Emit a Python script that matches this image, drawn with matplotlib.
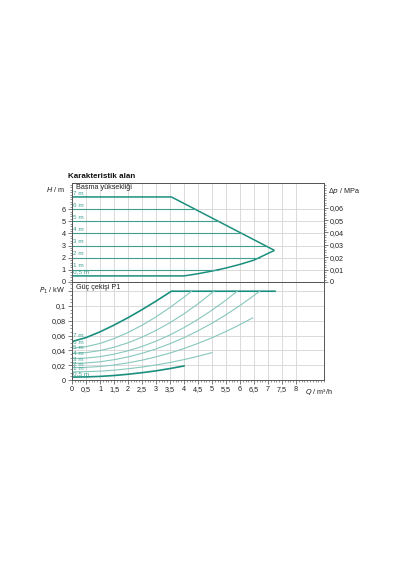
import matplotlib
matplotlib.use("Agg")
import matplotlib.pyplot as plt
from matplotlib.ticker import MultipleLocator, FuncFormatter
import numpy as np

plt.rcParams['font.family'] = ['Liberation Sans', 'DejaVu Sans']

# ---------------- data ----------------
head_labels = ["7 m", "6 m", "5 m", "4 m", "3 m", "2 m", "1 m", "0,5 m"]

# Head (top panel) envelope
max_head_q = [0.0, 3.55, 7.23]
max_head_h = [7.0, 7.0, 2.6]
min_head_q = [0.0, 4.0, 4.5, 5.0, 5.5, 6.0, 6.5, 7.0, 7.23]
min_head_h = [0.5, 0.5, 0.68, 0.9, 1.15, 1.45, 1.8, 2.35, 2.6]
mid_heads = [6, 5, 4, 3, 2, 1]
mid_heads_end_q = [4.39, 5.22, 6.06, 6.89, 6.68, 5.2]

# Power (bottom panel) curves
p_7m_q = [0.0, 0.5, 1.0, 1.5, 2.0, 2.5, 3.0, 3.55, 7.25]
p_7m = [0.052, 0.0573, 0.0651, 0.0742, 0.0842, 0.0951, 0.1066, 0.12, 0.12]
p_6m_q = [0.0, 0.5, 1.0, 1.5, 2.0, 2.5, 3.0, 3.5, 4.0, 4.27]
p_6m = [0.043, 0.045, 0.0495, 0.056, 0.0642, 0.074, 0.0853, 0.098, 0.112, 0.12]
p_5m_q = [0.0, 0.5, 1.0, 1.5, 2.0, 2.5, 3.0, 3.5, 4.0, 4.5, 5.07]
p_5m = [0.036, 0.037, 0.0398, 0.0443, 0.0503, 0.0579, 0.067, 0.0775, 0.0895, 0.103, 0.12]
p_4m_q = [0.0, 0.5, 1.0, 1.5, 2.0, 2.5, 3.0, 3.5, 4.0, 4.5, 5.0, 5.5, 5.9]
p_4m = [0.029, 0.0297, 0.0316, 0.0349, 0.0395, 0.0453, 0.0525, 0.061, 0.0708, 0.082, 0.0944, 0.108, 0.12]
p_3m_q = [0.0, 0.5, 1.0, 1.5, 2.0, 2.5, 3.0, 3.5, 4.0, 4.5, 5.0, 5.5, 6.0, 6.5, 6.7]
p_3m = [0.0225, 0.023, 0.0247, 0.0274, 0.0312, 0.0361, 0.042, 0.0491, 0.0572, 0.0665,
        0.0768, 0.0882, 0.1007, 0.1143, 0.12]
p_2m_q = [0.0, 0.5, 1.0, 1.5, 2.0, 2.5, 3.0, 3.5, 4.0, 4.5, 5.0, 5.5, 6.0, 6.45]
p_2m = [0.0167, 0.0171, 0.0183, 0.0203, 0.0232, 0.0268, 0.0313, 0.0365, 0.0426, 0.0495,
        0.0571, 0.0656, 0.0749, 0.084]
p_1m_q = [0.0, 0.5, 1.0, 1.5, 2.0, 2.5, 3.0, 3.5, 4.0, 4.5, 5.0]
p_1m = [0.011, 0.0113, 0.012, 0.0133, 0.0152, 0.0175, 0.0204, 0.0237, 0.0276, 0.0321, 0.037]
p_05m_q = [0.0, 0.5, 1.0, 1.5, 2.0, 2.5, 3.0, 3.5, 4.0]
p_05m = [0.004, 0.0042, 0.0049, 0.0061, 0.0078, 0.0099, 0.0124, 0.0155, 0.019]

x_ticks = [0, 0.5, 1, 1.5, 2, 2.5, 3, 3.5, 4, 4.5, 5, 5.5, 6, 6.5, 7, 7.5, 8]
h_ticks = [0, 1, 2, 3, 4, 5, 6]
dp_ticks = [0, 0.01, 0.02, 0.03, 0.04, 0.05, 0.06]
p_ticks = [0, 0.02, 0.04, 0.06, 0.08, 0.1]

# ---------------- style ----------------
TEAL = "#1b8f7e"
TEAL_MID = "#3f9f90"
TEAL_LIGHT = "#86c7bc"
GRID = "#d4d4d4"
FS = 5.2
FS_LAB = 4.6

fig = plt.figure(figsize=(4.0, 5.7), dpi=100)
ax1 = fig.add_axes([0.18, 0.5053, 0.63, 0.1737])
ax2 = fig.add_axes([0.18, 0.3333, 0.63, 0.1720])

def comma(v, pos=None):
    return ("%g" % v).replace(".", ",")

for ax in (ax1, ax2):
    ax.set_xlim(0, 9)
    ax.set_xticks(x_ticks)
    ax.xaxis.set_minor_locator(MultipleLocator(0.1))
    ax.grid(True, which='major', color=GRID, lw=0.6)
    ax.set_axisbelow(True)
    for s in ax.spines.values():
        s.set_color("#555555")
        s.set_linewidth(0.7)
    ax.tick_params(axis='both', which='major', labelsize=FS, length=3, width=0.5,
                   colors="#444444", labelcolor="#222222", pad=1.5)
    ax.tick_params(axis='both', which='minor', length=1.6, width=0.4, colors="#444444")

# ---- top panel ----
H_TOP = 8.15
ax1.set_ylim(0, H_TOP)
ax1.set_yticks(h_ticks)
ax1.yaxis.set_minor_locator(MultipleLocator(0.2))
ax1.tick_params(axis='x', which='both', labelbottom=False, length=0)
ax1.plot(max_head_q, max_head_h, color=TEAL, lw=1.1, solid_capstyle='butt')
ax1.plot(min_head_q, min_head_h, color=TEAL, lw=1.1, solid_capstyle='butt')
for h, qe in zip(mid_heads, mid_heads_end_q):
    ax1.plot([0, qe], [h, h], color=TEAL_MID, lw=0.8)
label_heads = [7, 6, 5, 4, 3, 2, 1, 0.5]
for lab, h in zip(head_labels, label_heads):
    ax1.text(0.04, h + 0.32, lab, color=TEAL_MID, fontsize=FS_LAB, va='center', ha='left')
ax1.text(0.15, 7.75, "Basma yüksekliği", fontsize=FS, color="#222222", va='center',
         ha='left')

# right axis (Δp)
axr = ax1.twinx()
axr.set_ylim(0, H_TOP * 0.00981)
axr.set_yticks(dp_ticks)
axr.yaxis.set_major_formatter(FuncFormatter(comma))
axr.yaxis.set_minor_locator(MultipleLocator(0.002))
axr.tick_params(axis='y', which='major', labelsize=FS, length=3, width=0.5,
                colors="#444444", labelcolor="#222222", pad=1.5)
axr.tick_params(axis='y', which='minor', length=1.6, width=0.4, colors="#444444")
for s in axr.spines.values():
    s.set_color("#555555")
    s.set_linewidth(0.7)

# ---- bottom panel ----
P_TOP = 0.1325
ax2.set_ylim(0, P_TOP)
ax2.set_yticks(p_ticks + [0.12])
ax2.set_yticklabels([comma(v) for v in p_ticks] + [""])
ax2.yaxis.set_minor_locator(MultipleLocator(0.005))
ax2.xaxis.set_major_formatter(FuncFormatter(comma))
ax2.plot(p_7m_q, p_7m, color=TEAL, lw=1.2)
for q, p in [(p_6m_q, p_6m), (p_5m_q, p_5m), (p_4m_q, p_4m), (p_3m_q, p_3m),
             (p_2m_q, p_2m), (p_1m_q, p_1m)]:
    ax2.plot(q, p, color=TEAL_LIGHT, lw=0.8)
ax2.plot(p_05m_q, p_05m, color=TEAL, lw=1.2)
p_label_y = [0.0595, 0.051, 0.0437, 0.036, 0.0284, 0.0216, 0.0158, 0.009]
for lab, py in zip(head_labels, p_label_y):
    ax2.text(0.04, py, lab, color=TEAL_MID, fontsize=FS_LAB, va='center', ha='left')
ax2.text(0.15, 0.1255, "Güç çekişi P1", fontsize=FS, color="#222222", va='center',
         ha='left')

# ---- axis labels / title ----
fig.text(0.17, 0.6895, "Karakteristik alan", fontsize=5.8, fontweight='bold', ha='left',
         va='center', color="#111111")
fig.text(0.163, 0.6667, "$H$ / m", fontsize=FS, ha='right', va='center', color="#222222")
fig.text(0.82, 0.6655, "Δ$p$ / MPa", fontsize=FS, ha='left', va='center', color="#222222")
fig.text(0.163, 0.4905, "$P_1$ / kW", fontsize=FS, ha='right', va='center', color="#222222")
fig.text(0.762, 0.3125, "$Q$ / m³/h", fontsize=FS, ha='left', va='center', color="#222222")

fig.savefig("out.png", dpi=100, facecolor='white')
